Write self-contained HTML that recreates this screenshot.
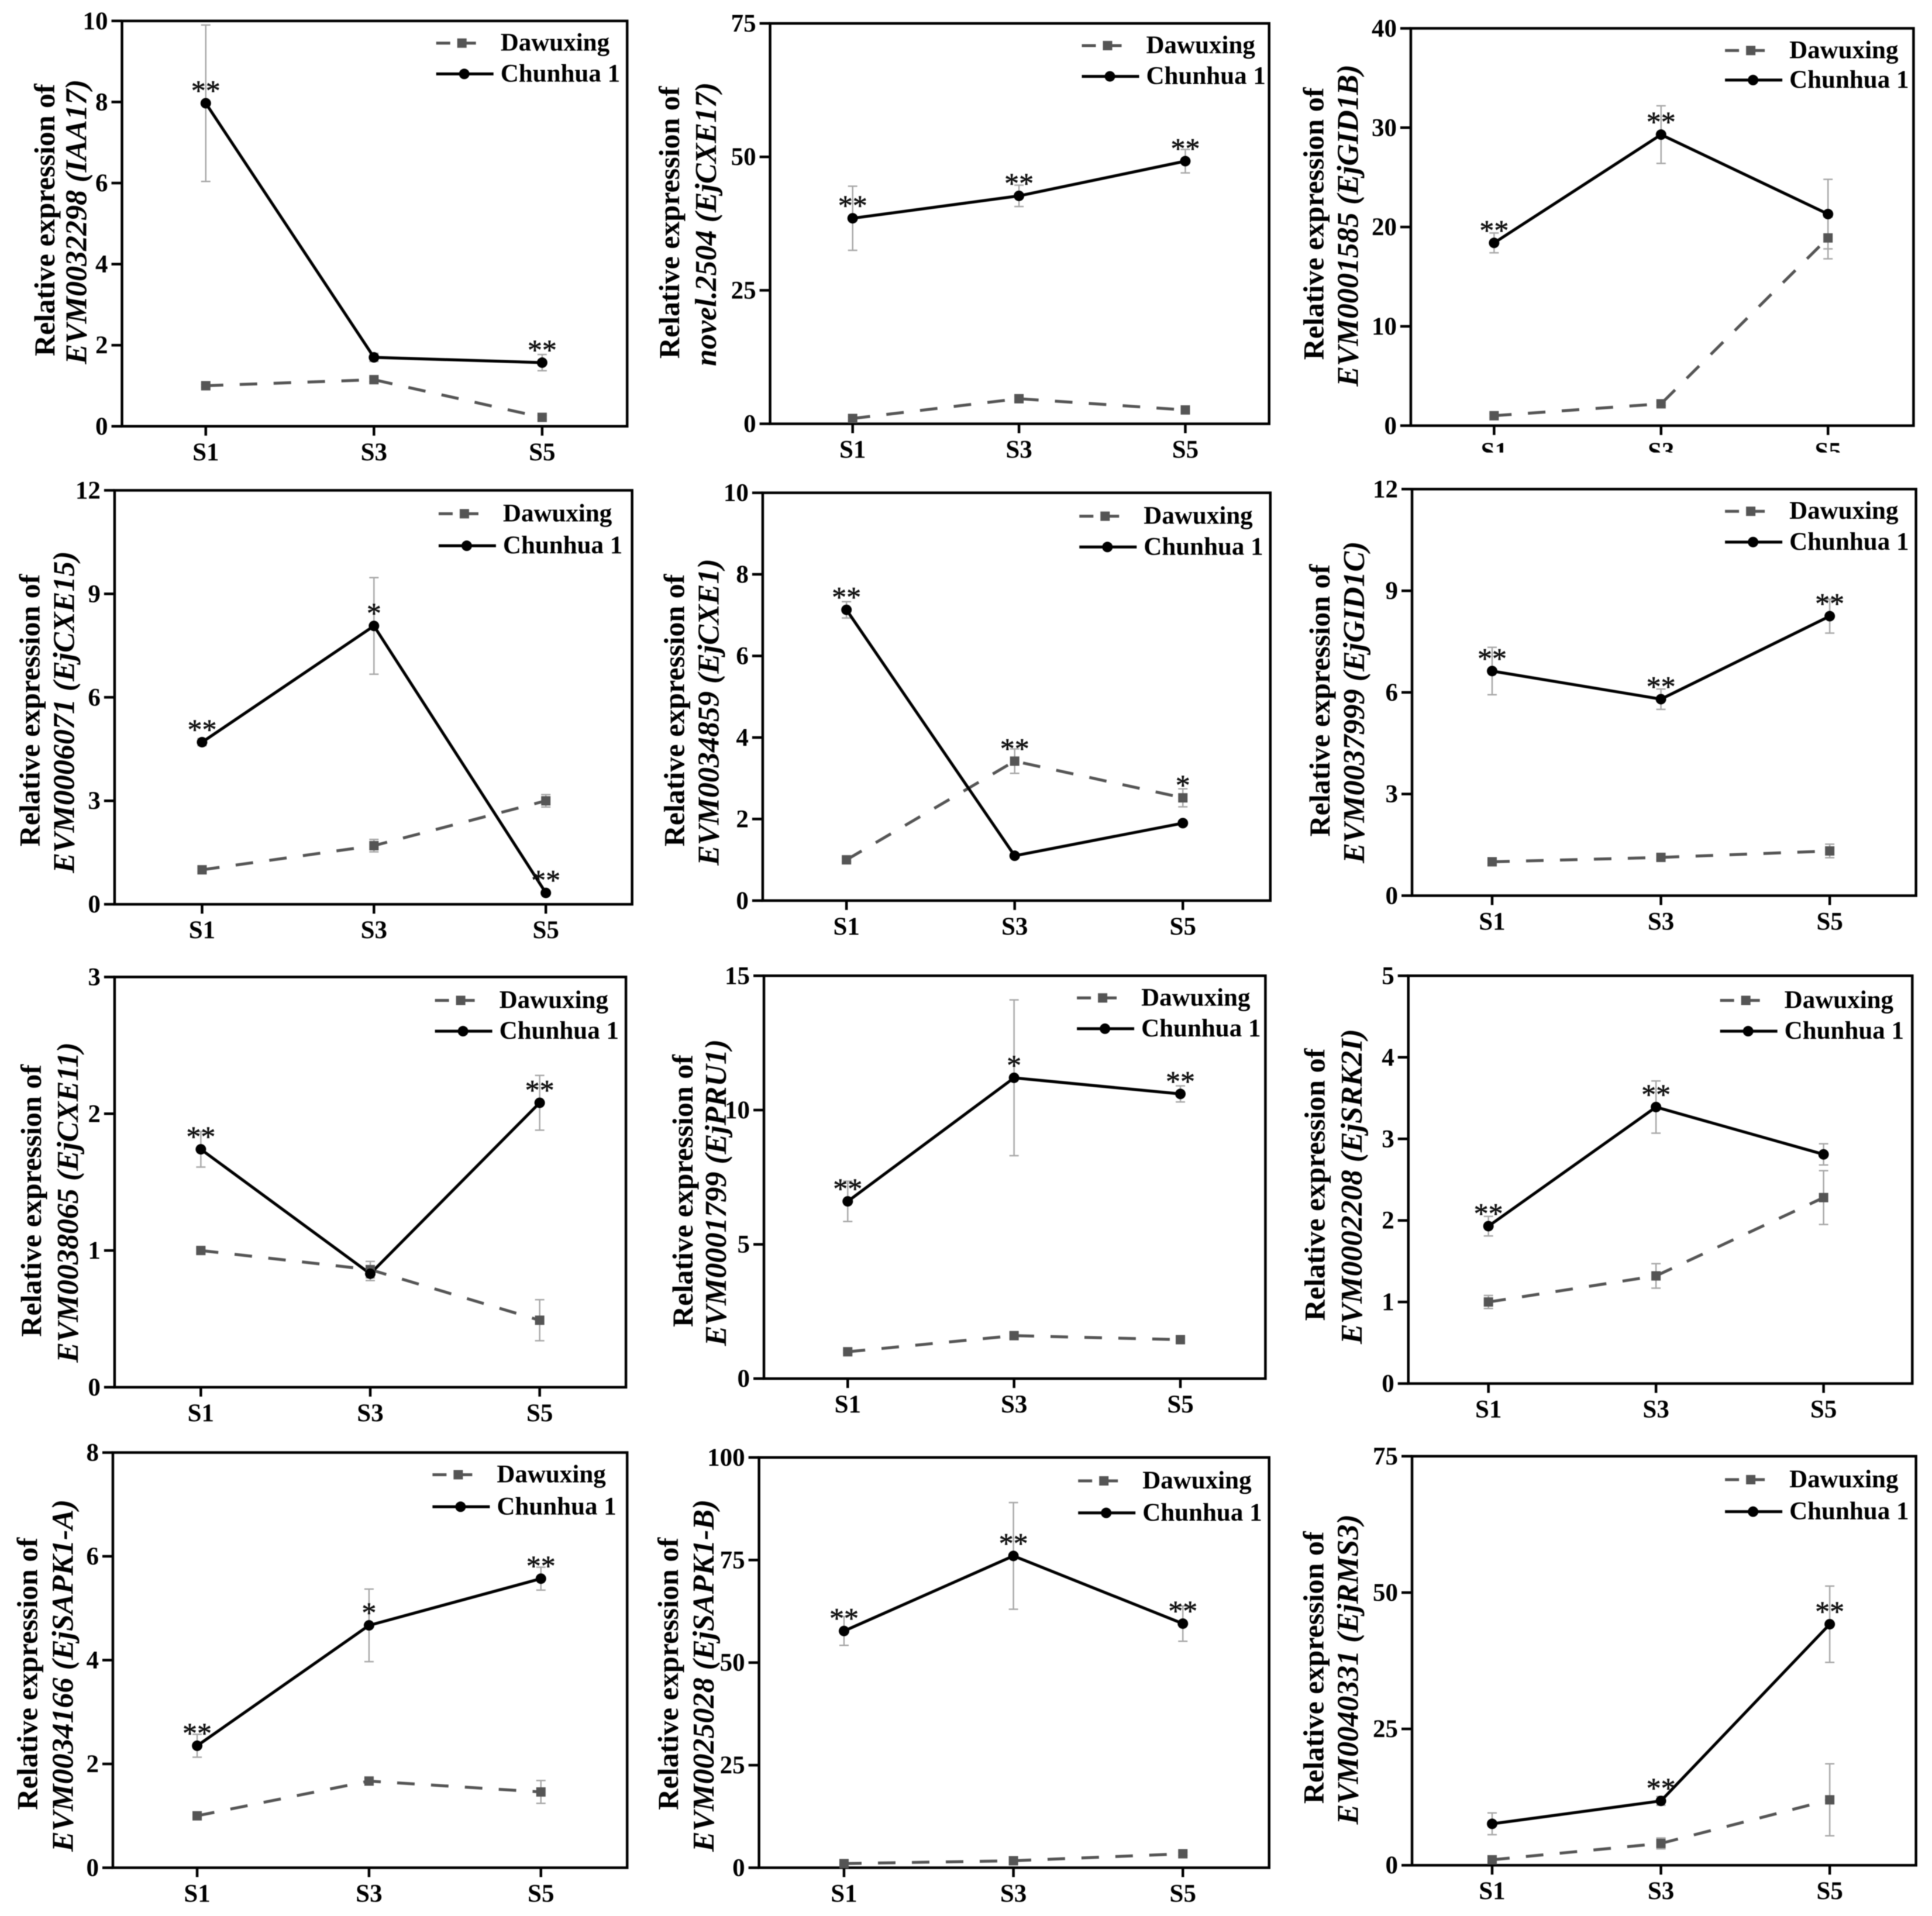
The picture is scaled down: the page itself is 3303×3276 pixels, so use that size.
<!DOCTYPE html>
<html lang="en">
<head>
<meta charset="utf-8">
<title>Relative expression line charts</title>
<style>
html,body{margin:0;padding:0;background:#fff;}
svg{display:block;font-family:"Liberation Serif",serif;filter:blur(0.8px);}
</style>
</head>
<body>
<svg id="figure" xmlns="http://www.w3.org/2000/svg" width="3303" height="3276" viewBox="0 0 3303 3276">
<rect x="0" y="0" width="3303" height="3276" fill="#ffffff"/>
</svg>
<script>
// ---- chart data ----
const categories = ["S1", "S3", "S5"];
const seriesNames = ["Dawuxing", "Chunhua 1"];
const geneIds = ["EVM0032298 (IAA17)", "novel.2504 (EjCXE17)", "EVM0001585 (EjGID1B)", "EVM0006071 (EjCXE15)", "EVM0034859 (EjCXE1)", "EVM0037999 (EjGID1C)", "EVM0038065 (EjCXE11)", "EVM0001799 (EjPRU1)", "EVM0002208 (EjSRK2I)", "EVM0034166 (EjSAPK1-A)", "EVM0025028 (EjSAPK1-B)", "EVM0040331 (EjRMS3)"];
const yTicks = [[0,2,4,6,8,10],[0,25,50,75],[0,10,20,30,40],[0,3,6,9,12],[0,2,4,6,8,10],[0,3,6,9,12],[0,1,2,3],[0,5,10,15],[0,1,2,3,4,5],[0,2,4,6,8],[0,25,50,75,100],[0,25,50,75]];
const dawuxingMeans = [[1,1.15,0.22],[1,4.7,2.6],[1,2.2,18.9],[1,1.7,3],[1,3.42,2.52],[1,1.13,1.32],[1,0.86,0.49],[1,1.6,1.45],[1,1.32,2.28],[1,1.67,1.46],[1,1.7,3.4],[1,4,12]];
const dawuxingErrors = [[0.03,0.05,0.05],[0.3,0.5,0.5],[0.2,0.2,2.1],[0.05,0.18,0.18],[0.05,0.3,0.22],[0.05,0.08,0.2],[0.02,0.06,0.15],[0.05,0.1,0.1],[0.08,0.15,0.33],[0.03,0.05,0.22],[0.2,0.3,0.4],[0.3,1,6.6]];
const chunhuaMeans = [[7.97,1.7,1.57],[38.5,42.7,49.2],[18.4,29.3,21.3],[4.7,8.07,0.33],[7.13,1.1,1.9],[6.63,5.8,8.25],[1.74,0.83,2.08],[6.6,11.2,10.6],[1.93,3.39,2.81],[2.35,4.67,5.57],[57.7,76,59.5],[7.6,11.8,44.2]];
const chunhuaErrors = [[1.93,0.1,0.2],[6,2,2.2],[1,2.9,3.5],[0.1,1.4,0.05],[0.2,0.05,0.05],[0.7,0.3,0.5],[0.13,0.05,0.2],[0.75,2.9,0.3],[0.12,0.32,0.13],[0.22,0.7,0.22],[3.5,13,4.3],[2,0.8,7]];
const chunhuaStars = [["**","","**"],["**","**","**"],["**","**",""],["**","*","**"],["**","",""],["**","**","**"],["**","","**"],["**","*","**"],["**","**",""],["**","*","**"],["**","**","**"],["","**","**"]];
const dawuxingStars = [["","",""],["","",""],["","",""],["","",""],["","**","*"],["","",""],["","",""],["","",""],["","",""],["","",""],["","",""],["","",""]];

// ---- panel layout, in preview units (multiplied by K) ----
const K = 3303 / 1568;
const panelFrames = [
  {l:99, r:509, t:17, b:346, x0:167, x1:440, lx:354, ly1:35, ly2:60, tx1:37, tx2:63, ty:180},
  {l:625, r:1030, t:19, b:344, x0:692, x1:962, lx:878, ly1:37, ly2:62, tx1:544, tx2:574, ty:182},
  {l:1145, r:1553, t:23, b:345.5, x0:1212.6, x1:1483.6, lx:1400, ly1:41, ly2:65, tx1:1067, tx2:1095, ty:183},
  {l:93, r:513, t:398, b:734, x0:164, x1:443, lx:356, ly1:417, ly2:443, tx1:25, tx2:53, ty:578},
  {l:619, r:1031, t:400, b:731, x0:687, x1:960, lx:876, ly1:419, ly2:444, tx1:548, tx2:576, ty:578},
  {l:1146, r:1555, t:397, b:727, x0:1211, x1:1485, lx:1400, ly1:415, ly2:440, tx1:1072, tx2:1100, ty:570},
  {l:93, r:508, t:793, b:1126, x0:163, x1:438, lx:353, ly1:812, ly2:837, tx1:26, tx2:56, ty:976},
  {l:620, r:1027, t:792, b:1119, x0:688, x1:958, lx:874, ly1:810, ly2:835, tx1:555, tx2:582, ty:968},
  {l:1143, r:1552, t:792, b:1123, x0:1208, x1:1480, lx:1396, ly1:812, ly2:837, tx1:1068, tx2:1098, ty:963},
  {l:91.6, r:509, t:1179, b:1516, x0:160, x1:439, lx:351, ly1:1197, ly2:1223, tx1:23, tx2:52, ty:1360},
  {l:616, r:1030, t:1183, b:1516, x0:685, x1:960, lx:875, ly1:1202, ly2:1228, tx1:543, tx2:572, ty:1360},
  {l:1146, r:1555, t:1182, b:1514, x0:1211, x1:1485, lx:1400, ly1:1201, ly2:1227, tx1:1067, tx2:1095, ty:1355}
];

const SVG_NS = "http://www.w3.org/2000/svg";
const root = document.getElementById("figure");
function mk(tag, parent, props, text) {
  const n = document.createElementNS(SVG_NS, tag);
  for (const k in props) n.setAttribute(k, props[k]);
  if (text !== undefined) n.textContent = text;
  parent.appendChild(n);
  return n;
}
const xScale = (f, i) => (f.x0 + (f.x1 - f.x0) * i / (categories.length - 1)) * K;
const yScale = (f, ticks, v) => (f.b - (f.b - f.t) * v / ticks[ticks.length - 1]) * K;

function drawErrors(g, f, ticks, means, errs, key) {
  means.forEach((m, i) => {
    const x = xScale(f, i), y1 = yScale(f, ticks, m + errs[i]), y2 = yScale(f, ticks, m - errs[i]);
    const stem = mk("line", g, {x1:x, x2:x, y1:y1, y2:y2, stroke:"#a8a8a8", "stroke-width":2.5});
    
    
    [y1, y2].forEach(y => {
      const cap = mk("line", g, {x1:x-8, x2:x+8, y1:y, y2:y, stroke:"#a8a8a8", "stroke-width":2.5});
      
      
    });
  });
}
function linePoints(f, ticks, means) {
  return means.map((m, i) => xScale(f, i).toFixed(1) + "," + yScale(f, ticks, m).toFixed(1)).join(" ");
}
function drawStars(g, f, ticks, means, stars, key) {
  stars.forEach((s, i) => {
    if (!s) return;
    const t = mk("text", g, {x:xScale(f, i), y:yScale(f, ticks, means[i]) - 5, "text-anchor":"middle", "font-size":50, fill:"#111", stroke:"#111", "stroke-width":0.6}, s);
    
    
  });
}

panelFrames.forEach((f, p) => {
  const ticks = yTicks[p];
  const g = mk("g", root, {});
  
  
  const L = f.l * K, R = f.r * K, T = f.t * K, B = f.b * K;

  // frame
  const frame = mk("rect", g, {x:L, y:T, width:R-L, height:B-T, fill:"none", stroke:"#000", "stroke-width":4.5});
  
  

  // y axis
  ticks.forEach(v => {
    const y = yScale(f, ticks, v);
    const tk = mk("line", g, {x1:L-18, x2:L, y1:y, y2:y, stroke:"#000", "stroke-width":4.5});
    
    
    const lb = mk("text", g, {x:L-24, y:y+14, "text-anchor":"end", "font-size":43, "font-weight":"bold", fill:"#000"}, String(v));
    
    
  });

  // x axis
  categories.forEach((c, i) => {
    const x = xScale(f, i);
    const tk = mk("line", g, {x1:x, x2:x, y1:B, y2:B+16, stroke:"#000", "stroke-width":4.5});
    
    
    const lb = mk("text", g, {x:x, y:B+58, "text-anchor":"middle", "font-size":43, "font-weight":"bold", fill:"#000"}, c);
    
    
  });

  // the third panel's x labels are cut off in the original figure
  if (p === 2) {
    const mask = mk("rect", g, {x:L-30, y:B+46, width:R-L+60, height:40, fill:"#fff"});
    
    
  }

  // y titles
  const cx1 = f.tx1 * K + 15, cx2 = f.tx2 * K + 15, cy = f.ty * K;
  const t1 = mk("text", g, {x:cx1, y:cy-3, transform:"rotate(-90 " + cx1 + " " + (cy-3) + ")", "text-anchor":"middle", "font-size":50, "font-weight":"bold", fill:"#000"}, "Relative expression of");
  
  
  const t2 = mk("text", g, {x:cx2, y:cy, transform:"rotate(-90 " + cx2 + " " + cy + ")", "text-anchor":"middle", "font-size":52, "font-weight":"bold", "font-style":"italic", fill:"#000"}, geneIds[p]);
  
  

  // error bars
  drawErrors(g, f, ticks, dawuxingMeans[p], dawuxingErrors[p], "dawuxing");
  drawErrors(g, f, ticks, chunhuaMeans[p], chunhuaErrors[p], "chunhua");

  // lines
  const dLine = mk("polyline", g, {points:linePoints(f, ticks, dawuxingMeans[p]), fill:"none", stroke:"#555", "stroke-width":5, "stroke-dasharray":"30 28"});
  
  
  const cLine = mk("polyline", g, {points:linePoints(f, ticks, chunhuaMeans[p]), fill:"none", stroke:"#000", "stroke-width":5});
  
  

  // markers
  dawuxingMeans[p].forEach((m, i) => {
    const s = mk("rect", g, {x:xScale(f, i)-8, y:yScale(f, ticks, m)-8, width:16, height:16, fill:"#555"});
    
    
  });
  chunhuaMeans[p].forEach((m, i) => {
    const c = mk("circle", g, {cx:xScale(f, i), cy:yScale(f, ticks, m), r:9, fill:"#000"});
    
    
  });

  // significance
  drawStars(g, f, ticks, dawuxingMeans[p], dawuxingStars[p], "dawuxing");
  drawStars(g, f, ticks, chunhuaMeans[p], chunhuaStars[p], "chunhua");

  // legend
  const lx = f.lx * K, y1 = f.ly1 * K, y2 = f.ly2 * K, tx = lx + 110;
  const ld = mk("line", g, {x1:lx, x2:lx+88, y1:y1, y2:y1, stroke:"#555", "stroke-width":5, "stroke-dasharray":"24 20"});
  
  
  const lm = mk("rect", g, {x:lx+36, y:y1-8, width:16, height:16, fill:"#555"});
  
  
  const lt = mk("text", g, {x:tx, y:y1+13, "font-size":43, "font-weight":"bold", fill:"#000"}, seriesNames[0]);
  
  
  const lc = mk("line", g, {x1:lx, x2:lx+98, y1:y2, y2:y2, stroke:"#000", "stroke-width":5});
  
  
  const lo = mk("circle", g, {cx:lx+48, cy:y2, r:9, fill:"#000"});
  
  
  const lu = mk("text", g, {x:tx, y:y2+13, "font-size":43, "font-weight":"bold", fill:"#000"}, seriesNames[1]);
  
  
});
</script>
</body>
</html>
